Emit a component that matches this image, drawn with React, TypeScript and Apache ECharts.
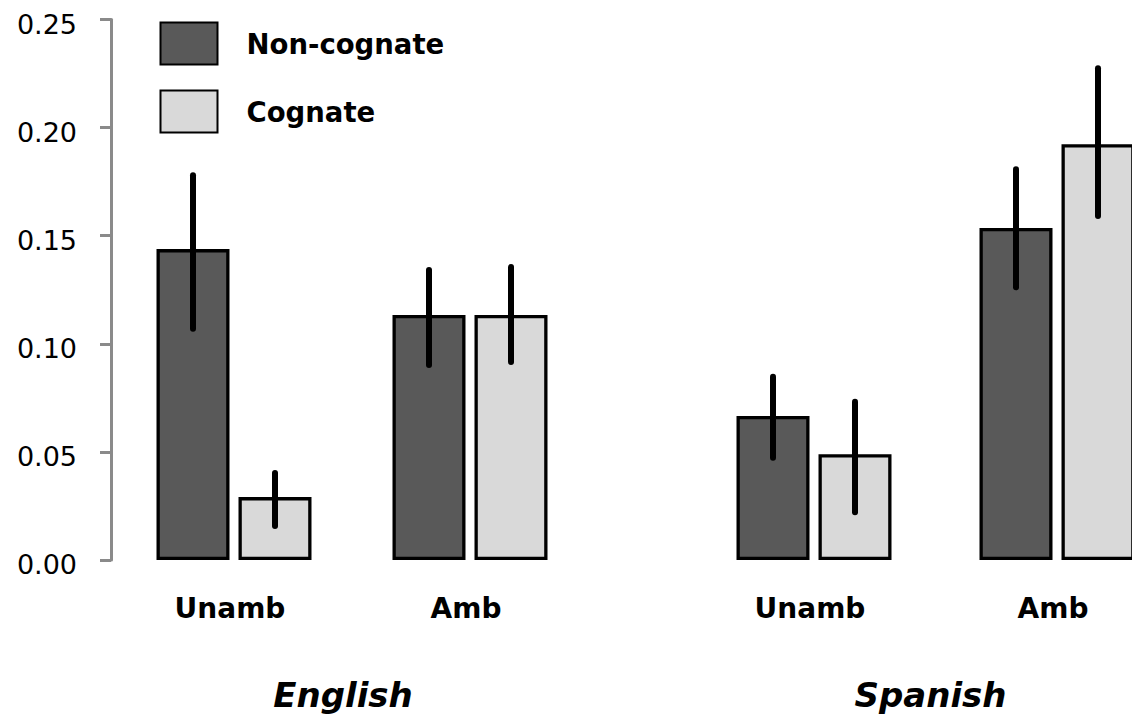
import React, { useEffect, useRef } from "react";
import * as echarts from "echarts";

const conditions = ["Unamb", "Amb"];
const seriesNames = ["Non-cognate", "Cognate"];
const yTicks = [0, 0.25, 0.05];

const englishNonCognate = [0.1438, 0.1133];
const englishCognate = [0.0291, 0.1133];
const spanishNonCognate = [0.0666, 0.1536];
const spanishCognate = [0.0489, 0.1923];

const englishNonCognateLow = [0.107, 0.0902];
const englishNonCognateHigh = [0.178, 0.1341];
const englishCognateLow = [0.0157, 0.0916];
const englishCognateHigh = [0.0402, 0.1355];
const spanishNonCognateLow = [0.0473, 0.1261];
const spanishNonCognateHigh = [0.0848, 0.1807];
const spanishCognateLow = [0.0221, 0.1591];
const spanishCognateHigh = [0.0732, 0.2274];

const FONT = "DejaVu Sans";
const BAR_W = 73;
const BAR_GAP = 9;
const DARK = "#595959";
const LIGHT = "#d9d9d9";
const AXIS_GRAY = "#8a8a8a";

function errSeries(gridIdx: number, side: number, low: number[], high: number[]) {
  return {
    type: "custom",
    xAxisIndex: gridIdx,
    yAxisIndex: gridIdx,
    z: 5,
    silent: true,
    encode: { x: 0, y: [1, 2] },
    data: conditions.map((_, i) => [i, low[i], high[i]]),
    renderItem: (params: any, api: any) => {
      const c = api.value(0);
      const p1 = api.coord([c, api.value(1)]);
      const p2 = api.coord([c, api.value(2)]);
      const dx = (side * (BAR_W + BAR_GAP)) / 2;
      return {
        type: "line",
        shape: { x1: p1[0] + dx, y1: p1[1], x2: p2[0] + dx, y2: p2[1] },
        style: { stroke: "#000", lineWidth: 6, lineCap: "round" },
      };
    },
  };
}

function barSeries(gridIdx: number, name: string, values: number[], color: string) {
  return {
    type: "bar",
    name,
    xAxisIndex: gridIdx,
    yAxisIndex: gridIdx,
    barWidth: BAR_W,
    barGap: (BAR_GAP / BAR_W) * 100 + "%",
    itemStyle: { color, borderColor: "#000", borderWidth: 3.3 },
    data: values,
    z: 2,
  };
}

function xAxisFor(gridIdx: number, name: string, pad: number[]) {
  return {
    type: "category",
    gridIndex: gridIdx,
    data: conditions,
    axisLine: { show: false },
    axisTick: { show: false },
    axisLabel: {
      margin: 34,
      fontSize: 28,
      fontWeight: "bold",
      fontFamily: FONT,
      color: "#000",
      padding: [0, 8, 0, 0],
    },
    name,
    nameLocation: "middle",
    nameGap: 118,
    nameTextStyle: {
      fontSize: 34,
      fontWeight: "bold",
      fontStyle: "italic",
      fontFamily: FONT,
      color: "#000",
      padding: pad,
    },
  };
}

export default function App() {
  const ref = useRef<HTMLDivElement>(null);
  useEffect(() => {
    if (!ref.current) return;
    const chart = echarts.init(ref.current, null, { renderer: "svg" });
    const option: any = {
      animation: false,
      backgroundColor: "#fff",
      grid: [
        { left: 116, top: 19.5, width: 472, height: 540.5, outerBoundsMode: "none", containLabel: false },
        { left: 692.5, top: 19.5, width: 486, height: 540.5, outerBoundsMode: "none", containLabel: false },
      ],
      legend: {
        data: seriesNames,
        orient: "vertical",
        left: 159.5,
        top: 21.5,
        padding: 0,
        icon: "rect",
        itemWidth: 57,
        itemHeight: 42,
        itemGap: 24,
        textStyle: {
          fontSize: 27.5,
          fontWeight: "bold",
          fontFamily: FONT,
          color: "#000",
          padding: [0, 0, 0, 24],
        },
      },
      xAxis: [xAxisFor(0, "English", [0, 18, 0, 0]), xAxisFor(1, "Spanish", [0, 10, 0, 0])],
      yAxis: [
        {
          type: "value",
          gridIndex: 0,
          min: yTicks[0],
          max: yTicks[1],
          interval: yTicks[2],
          offset: 5,
          splitLine: { show: false },
          axisLine: { show: true, lineStyle: { color: AXIS_GRAY, width: 3 } },
          axisTick: { show: true, length: 11, lineStyle: { color: AXIS_GRAY, width: 3 } },
          axisLabel: {
            formatter: (v: number) => "{t|" + v.toFixed(2) + "}",
            margin: 34,
            rich: {
              t: {
                fontSize: 27,
                fontFamily: FONT,
                color: "#000",
                padding: [9, 0, 0, 0],
              },
            },
          },
        },
        {
          type: "value",
          gridIndex: 1,
          min: yTicks[0],
          max: yTicks[1],
          interval: yTicks[2],
          show: false,
          splitLine: { show: false },
        },
      ],
      series: [
        barSeries(0, seriesNames[0], englishNonCognate, DARK),
        barSeries(0, seriesNames[1], englishCognate, LIGHT),
        barSeries(1, seriesNames[0], spanishNonCognate, DARK),
        barSeries(1, seriesNames[1], spanishCognate, LIGHT),
        errSeries(0, -1, englishNonCognateLow, englishNonCognateHigh),
        errSeries(0, 1, englishCognateLow, englishCognateHigh),
        errSeries(1, -1, spanishNonCognateLow, spanishNonCognateHigh),
        errSeries(1, 1, spanishCognateLow, spanishCognateHigh),
      ],
    };
    chart.setOption(option);
    return () => chart.dispose();
  }, []);
  return (
    <div
      ref={ref}
      style={{ position: "absolute", left: 0, top: 0, width: 1132, height: 722, overflow: "hidden" }}
    />
  );
}
